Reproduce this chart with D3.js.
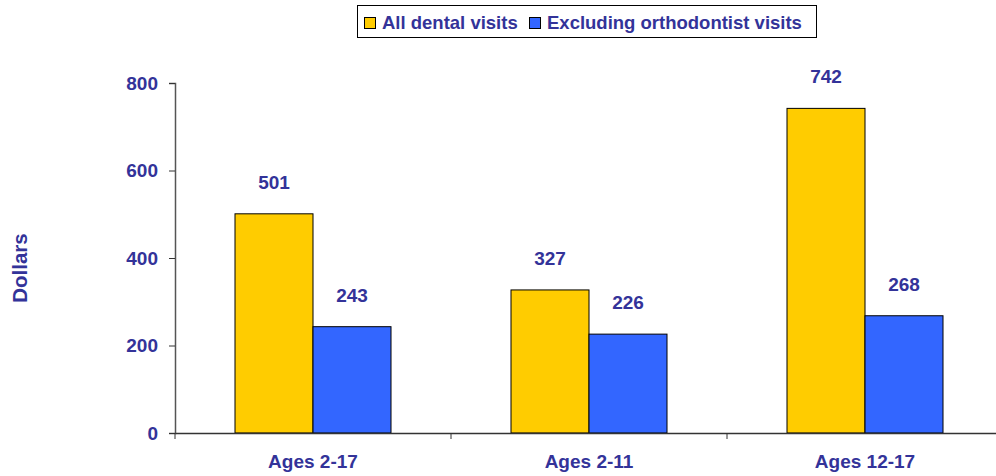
<!DOCTYPE html>
<html>
<head>
<meta charset="utf-8">
<script src="https://cdn.jsdelivr.net/npm/d3@7"></script>
<style>
  body { margin: 0; background: #fff; }
  text { font-family: "Liberation Sans", Arial, sans-serif; font-weight: bold; }
</style>
</head>
<body>
<div id="chart"></div>
<script>
// data
const categories = ["Ages 2-17", "Ages 2-11", "Ages 12-17"];
const seriesNames = ["All dental visits", "Excluding orthodontist visits"];
const allVisits = [501, 327, 742];
const excludingOrtho = [243, 226, 268];
const yTicks = [0, 200, 400, 600, 800];

const seriesColors = ["#ffcc00", "#3366ff"];
const textColor = "#333399";

const w = 996, h = 476;
const plotLeft = 175, plotRight = 1003, plotTop = 83, plotBottom = 433;

const svg = d3.select("#chart").append("svg")
    .attr("width", w)
    .attr("height", h);

const x = d3.scaleBand().domain(categories).range([plotLeft, plotRight]);
const xInner = d3.scaleBand().domain(seriesNames).range([60, x.bandwidth() - 60]);
const y = d3.scaleLinear().domain([0, 800]).range([plotBottom, plotTop]);

const rows = categories.map((c, i) => ({
    cat: c,
    vals: [allVisits[i], excludingOrtho[i]]
}));

// bars
const groups = svg.selectAll("g.grp")
    .data(rows)
    .enter().append("g")
    .attr("class", "grp")
    .attr("transform", d => "translate(" + x(d.cat) + ",0)");

groups.selectAll("rect")
    .data(d => d.vals.map((v, j) => ({ name: seriesNames[j], v: v, j: j })))
    .enter().append("rect")
    .attr("x", d => xInner(d.name))
    .attr("y", d => y(d.v))
    .attr("width", xInner.bandwidth())
    .attr("height", d => plotBottom - y(d.v))
    .attr("fill", d => seriesColors[d.j])
    .attr("stroke", "#000")
    .attr("stroke-width", 1);

// value labels
groups.selectAll("text.val")
    .data(d => d.vals.map((v, j) => ({ name: seriesNames[j], v: v })))
    .enter().append("text")
    .attr("class", "val")
    .attr("x", d => xInner(d.name) + xInner.bandwidth() / 2)
    .attr("y", d => y(d.v) - 25)
    .attr("text-anchor", "middle")
    .attr("fill", textColor)
    .style("font-size", "19px")
    .text(d => d.v);

// y axis
const yAxis = svg.append("g")
    .attr("transform", "translate(" + plotLeft + ",0)")
    .call(d3.axisLeft(y).tickValues(yTicks).tickSize(6).tickPadding(11));
yAxis.select(".domain").attr("stroke", "#555").attr("stroke-width", 1.5);
yAxis.selectAll(".tick line").attr("stroke", "#333");
yAxis.selectAll(".tick text")
    .attr("fill", textColor)
    .style("font-size", "19px")
    .style("font-family", "Liberation Sans, Arial, sans-serif")
    .style("font-weight", "bold");

// x axis: ticks at the category boundaries
const xAxis = svg.append("g")
    .attr("transform", "translate(0," + plotBottom + ")")
    .call(d3.axisBottom(x).tickSize(0).tickPadding(22));
xAxis.select(".domain").attr("stroke", "#333").attr("stroke-width", 1.5);
xAxis.selectAll(".tick text")
    .attr("fill", textColor)
    .style("font-size", "19px")
    .style("font-family", "Liberation Sans, Arial, sans-serif")
    .style("font-weight", "bold");
xAxis.selectAll("line.sep")
    .data(categories)
    .enter().append("line")
    .attr("class", "sep")
    .attr("x1", d => x(d))
    .attr("x2", d => x(d))
    .attr("y1", 0)
    .attr("y2", 6)
    .attr("stroke", "#333");

// y title
svg.append("text")
    .attr("transform", "translate(27,268) rotate(-90)")
    .attr("text-anchor", "middle")
    .attr("fill", textColor)
    .style("font-size", "20.5px")
    .text("Dollars");

// legend
const legend = svg.append("g");
legend.append("rect")
    .attr("x", 357.5).attr("y", 5.5)
    .attr("width", 459).attr("height", 32)
    .attr("fill", "#fff")
    .attr("stroke", "#000");
const legX = [364, 529];
seriesNames.forEach((s, i) => {
    legend.append("rect")
        .attr("x", legX[i] + 0.5).attr("y", 17.5)
        .attr("width", 11).attr("height", 11)
        .attr("fill", seriesColors[i])
        .attr("stroke", "#000");
    legend.append("text")
        .attr("x", legX[i] + 18)
        .attr("y", 28.5)
        .attr("fill", textColor)
        .style("font-size", "18.5px")
        .text(s);
});
</script>
</body>
</html>
